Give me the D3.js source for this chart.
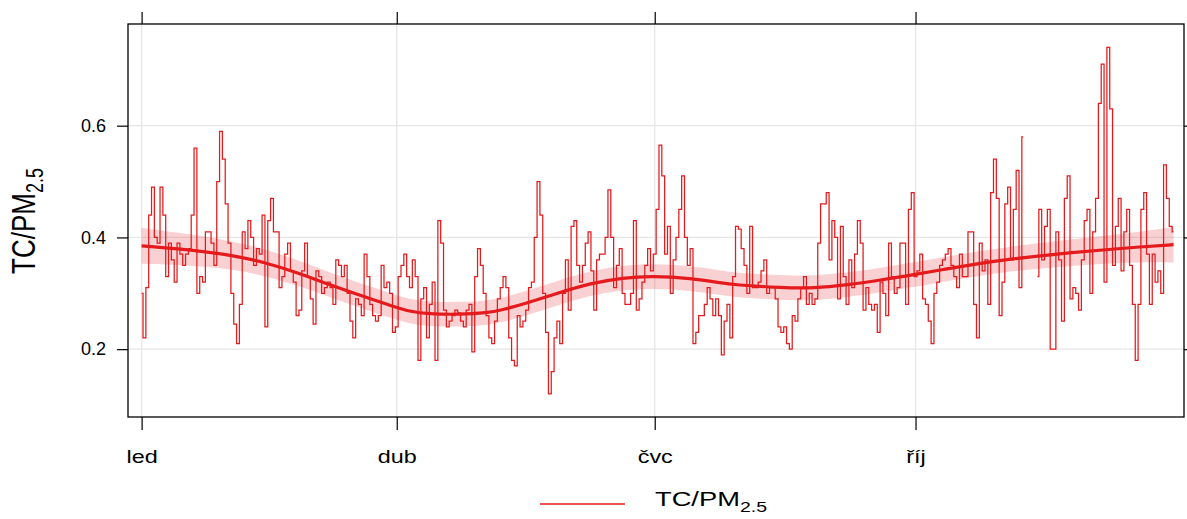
<!DOCTYPE html>
<html>
<head>
<meta charset="utf-8">
<script src="https://cdn.jsdelivr.net/npm/d3@7"></script>
<style>
  html, body { margin: 0; padding: 0; background: #fff; }
  svg { display: block; font-family: "Liberation Sans", Arial, sans-serif; }
</style>
</head>
<body>
<svg id="chart" width="1187" height="519"></svg>
<script>
// Daily TC/PM2.5 ratio for one year, starting 1 January (null = missing day)
const startDate = new Date(2021, 0, 1);
const dailyRatio = [
  0.30,0.22,0.31,0.44,0.49,0.40,0.39,0.49,0.44,0.33,
  0.39,0.36,0.32,0.39,0.37,0.35,0.37,0.38,0.44,0.56,
  0.30,0.33,0.32,0.41,0.41,0.39,0.35,0.50,0.59,0.54,
  0.46,0.39,0.30,0.245,0.21,0.28,0.41,0.38,0.43,0.40,
  0.35,0.38,0.37,0.44,0.24,0.43,0.47,0.41,0.41,0.31,
  0.33,0.37,0.39,0.34,0.32,0.26,0.27,0.34,0.39,0.33,
  0.29,0.245,0.34,0.33,0.30,0.31,0.32,0.31,0.28,0.36,
  0.35,0.33,0.35,0.30,0.25,0.22,0.29,0.28,0.26,0.37,
  0.33,0.28,0.26,0.25,0.26,0.35,0.31,0.32,0.30,0.23,
  0.24,0.33,0.35,0.37,0.33,0.31,0.36,0.33,0.18,0.29,
  0.31,0.22,0.28,0.32,0.18,0.43,0.39,0.27,0.24,0.25,
  0.26,0.27,0.265,0.25,0.24,0.27,0.28,0.195,0.33,0.38,
  0.35,0.30,0.26,0.22,0.21,0.25,0.29,0.31,0.33,0.31,
  0.22,0.18,0.17,0.26,0.24,0.25,0.27,0.31,0.32,0.40,
  0.50,0.44,0.30,0.23,0.12,0.16,0.22,0.25,0.21,0.30,
  0.36,0.27,0.42,0.43,0.35,0.32,0.35,0.39,0.41,0.34,
  0.27,0.36,0.37,0.37,0.40,0.485,0.40,0.31,0.35,0.38,
  0.30,0.28,0.28,0.30,0.43,0.27,0.29,0.32,0.35,0.38,
  0.34,0.37,0.45,0.565,0.51,0.37,0.42,0.30,0.36,0.40,
  0.45,0.51,0.40,0.35,0.38,0.21,0.23,0.26,0.26,0.28,
  0.31,0.29,0.26,0.29,0.26,0.19,0.25,0.28,0.22,0.33,
  0.42,0.415,0.38,0.35,0.30,0.42,0.31,0.31,0.32,0.34,
  0.36,0.30,0.31,0.31,0.29,0.24,0.23,0.24,0.21,0.20,
  0.26,0.25,0.29,0.31,0.33,0.28,0.30,0.28,0.29,0.39,
  0.46,0.46,0.48,0.36,0.43,0.40,0.29,0.42,0.33,0.28,
  0.36,0.31,0.37,0.43,0.39,0.27,0.31,0.28,0.27,0.28,
  0.23,0.32,0.30,0.26,0.39,0.33,0.30,0.31,0.39,0.39,
  0.28,0.45,0.48,0.33,0.34,0.37,0.29,0.28,0.25,0.21,
  0.30,0.32,0.35,0.36,0.37,0.38,0.35,0.33,0.31,0.37,
  0.33,0.33,0.41,0.41,0.28,0.22,0.39,0.34,0.36,0.28,
  0.48,0.54,0.47,0.26,0.32,0.46,0.49,0.36,0.45,0.52,
  0.31,0.58,null,null,null,null,0.33,0.45,0.36,0.42,
  0.45,0.20,0.20,0.41,0.36,0.25,0.47,0.51,0.29,0.31,
  0.30,0.27,0.36,0.43,0.45,0.30,0.41,0.47,0.64,0.71,
  0.32,0.74,0.63,0.35,0.42,0.47,0.34,0.41,0.45,0.35,
  0.28,0.18,0.28,0.45,0.48,0.37,0.28,0.37,0.32,0.34,
  0.30,0.53,0.47,0.42,0.41
];

// Smooth trend (day of year, fitted value, half-width of the 95% band)
const trendDay  = [0, 21, 33, 43, 55, 67, 79, 89, 95, 101, 112, 122, 127, 135, 146, 158, 170, 180, 194, 204, 209, 226, 237, 249, 261, 271, 283, 295, 306, 317, 328, 340, 352, 364];
const trendFit  = [0.385,0.376,0.367,0.356,0.337,0.314,0.293,0.276,0.267,0.263,0.262,0.265,0.270,0.281,0.299,0.318,0.328,0.331,0.327,0.319,0.315,0.310,0.309,0.315,0.324,0.332,0.343,0.353,0.361,0.367,0.373,0.378,0.383,0.387];
const trendHalf = [0.032,0.027,0.025,0.024,0.023,0.022,0.022,0.022,0.022,0.022,0.022,0.022,0.022,0.022,0.022,0.022,0.022,0.022,0.022,0.022,0.022,0.022,0.022,0.022,0.022,0.022,0.022,0.022,0.022,0.023,0.024,0.025,0.027,0.032];

const monthTicks  = [new Date(2021, 0, 1), new Date(2021, 3, 1), new Date(2021, 6, 1), new Date(2021, 9, 1)];
const monthLabels = ["led", "dub", "čvc", "říj"];
const yTicks = [0.2, 0.4, 0.6];

const lineColour = "#E41A1C";
const textStretch = 1.3;   // horizontal widening of the lettering

const svg = d3.select("#chart");
const frame = { left: 128, right: 1184, top: 24, bottom: 417 };

const dayMs = 864e5;
const x = d3.scaleTime()
  .domain([new Date(+startDate - 4.8 * dayMs), new Date(+d3.timeDay.offset(startDate, 364) + 3.7 * dayMs)])
  .range([frame.left, frame.right]);
const y = d3.scaleLinear().domain([0.0786, 0.782]).range([frame.bottom, frame.top]);

const daily = dailyRatio.map((v, i) => ({ date: d3.timeDay.offset(startDate, i), value: v }));
const trend = trendDay.map((d, i) => ({ date: d3.timeDay.offset(startDate, d), fit: trendFit[i], half: trendHalf[i] }));

// grid
const grid = svg.append("g").attr("stroke", "#e6e6e6").attr("stroke-width", 1.3);
grid.selectAll("line.v").data(monthTicks).join("line")
  .attr("x1", d => x(d)).attr("x2", d => x(d))
  .attr("y1", frame.top).attr("y2", frame.bottom);
grid.selectAll("line.h").data(yTicks).join("line")
  .attr("x1", frame.left).attr("x2", frame.right)
  .attr("y1", d => y(d)).attr("y2", d => y(d));

// confidence band, daily series and trend
const plot = svg.append("g");
plot.append("path").datum(trend)
  .attr("fill", lineColour).attr("fill-opacity", 0.2)
  .attr("d", d3.area().curve(d3.curveBasis)
    .x(d => x(d.date)).y0(d => y(d.fit - d.half)).y1(d => y(d.fit + d.half)));

plot.append("path").datum(daily)
  .attr("fill", "none").attr("stroke", lineColour).attr("stroke-width", 1.25)
  .attr("d", d3.line().curve(d3.curveStep).defined(d => d.value != null)
    .x(d => x(d.date)).y(d => y(d.value)));

plot.append("path").datum(trend)
  .attr("fill", "none").attr("stroke", lineColour).attr("stroke-width", 3.2)
  .attr("d", d3.line().curve(d3.curveBasis).x(d => x(d.date)).y(d => y(d.fit)));

// axes
const gB = svg.append("g").attr("transform", `translate(0,${frame.bottom})`)
  .call(d3.axisBottom(x).tickValues(monthTicks).tickFormat((d, i) => monthLabels[i]).tickSize(13).tickPadding(20));
const gT = svg.append("g").attr("transform", `translate(0,${frame.top})`)
  .call(d3.axisTop(x).tickValues(monthTicks).tickFormat("").tickSize(12));
const gL = svg.append("g").attr("transform", `translate(${frame.left},0)`)
  .call(d3.axisLeft(y).tickValues(yTicks).tickFormat(d3.format(".1f")).tickSize(11).tickPadding(11));
const gR = svg.append("g").attr("transform", `translate(${frame.right},0)`)
  .call(d3.axisRight(y).tickValues(yTicks).tickFormat("").tickSize(11));
[gB, gT, gL, gR].forEach(g => {
  g.select(".domain").remove();
  g.selectAll(".tick line").attr("stroke", "#000").attr("stroke-width", 1.2);
  g.selectAll("text").attr("font-family", null).attr("fill", "#000");
});
gL.selectAll("text").attr("font-size", 18);
gB.selectAll("text").attr("font-size", 18).attr("transform", `scale(${textStretch},1)`);

// frame
svg.append("rect")
  .attr("x", frame.left).attr("y", frame.top)
  .attr("width", frame.right - frame.left).attr("height", frame.bottom - frame.top)
  .attr("fill", "none").attr("stroke", "#000").attr("stroke-width", 1.3);

// y axis title
const yTitle = svg.append("text")
  .attr("transform", `translate(35,221) scale(${textStretch},1) rotate(-90)`)
  .attr("text-anchor", "middle").attr("font-size", 26).attr("fill", "#000");
yTitle.append("tspan").text("TC/PM");
yTitle.append("tspan").attr("font-size", 18).attr("dy", 6).text("2.5");

// legend
svg.append("line").attr("x1", 540).attr("x2", 625).attr("y1", 504).attr("y2", 504)
  .attr("stroke", lineColour).attr("stroke-width", 1.5);
const leg = svg.append("text")
  .attr("transform", `translate(655,506) scale(${textStretch},1)`)
  .attr("font-size", 21).attr("fill", "#000");
leg.append("tspan").text("TC/PM");
leg.append("tspan").attr("font-size", 15).attr("dy", 6).text("2.5");
</script>
</body>
</html>
